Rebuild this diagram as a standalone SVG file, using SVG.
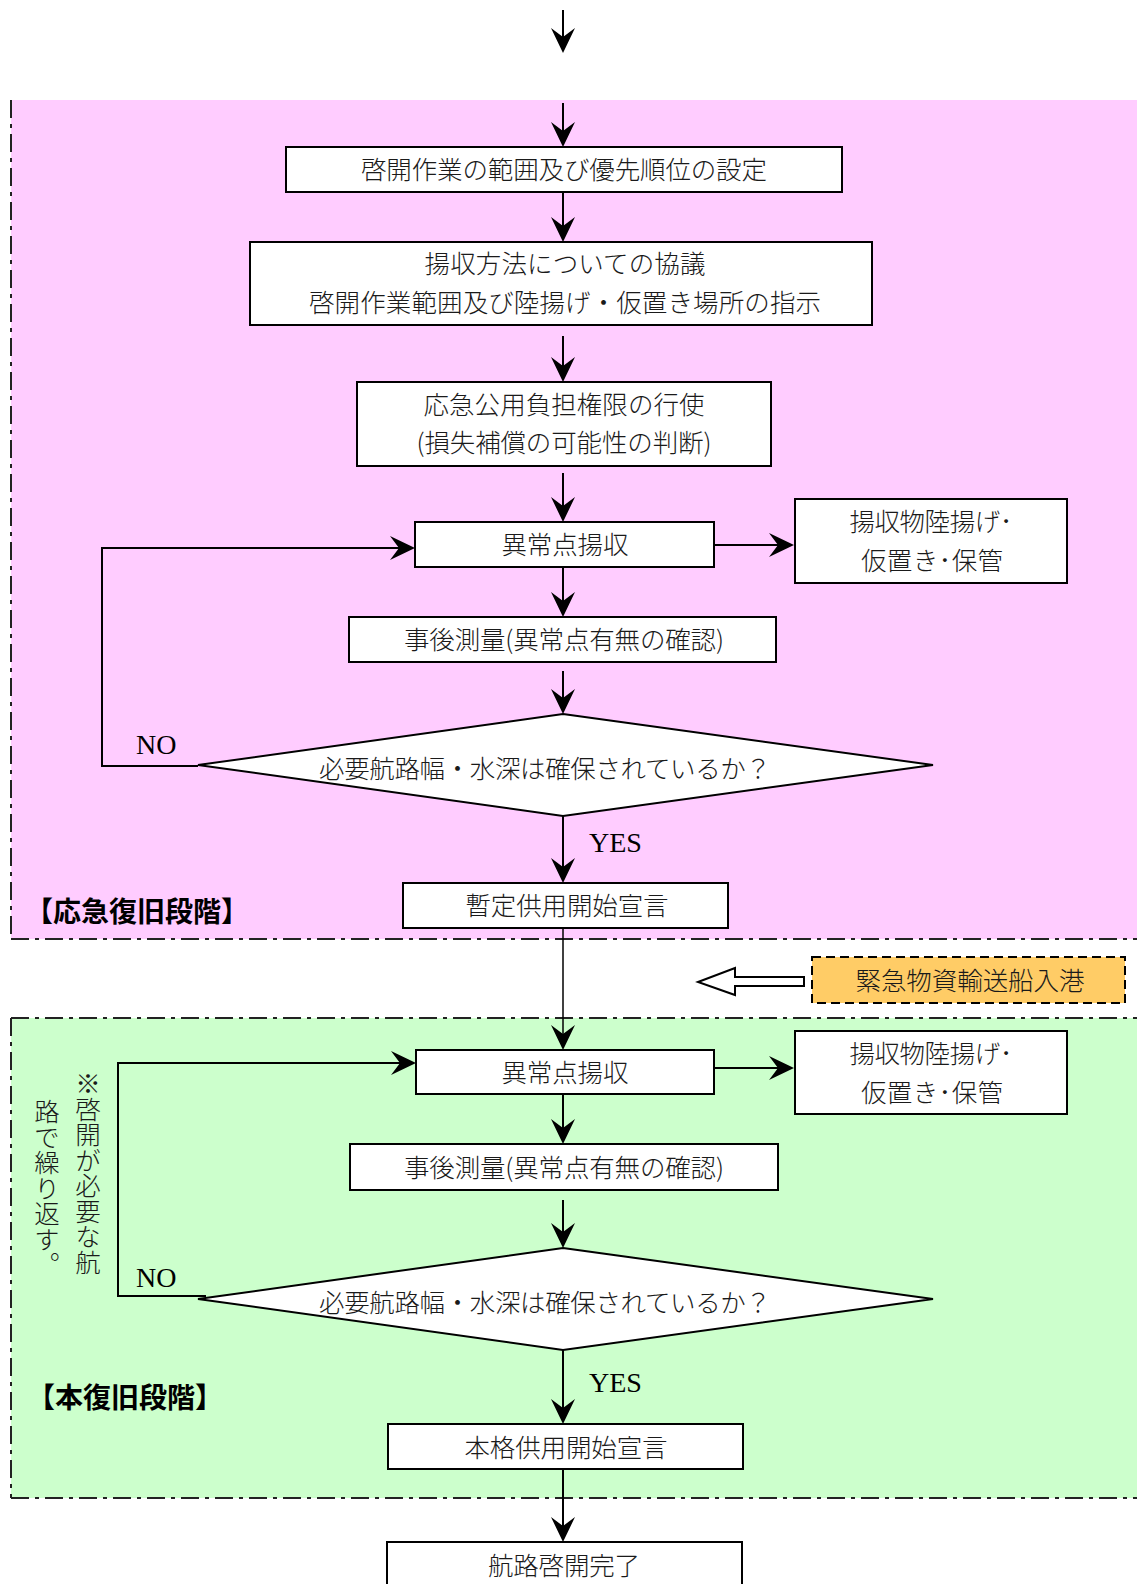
<svg xmlns="http://www.w3.org/2000/svg" width="1137" height="1584" viewBox="0 0 1137 1584">
  <style>
    .box { fill: #ffffff; stroke: #000000; stroke-width: 2; }
    .t { font-family: "Noto Sans CJK JP", sans-serif; font-size: 25.5px; font-weight: 300; fill: #1a1a1a; text-anchor: middle; dominant-baseline: central; }
    .lab { font-family: "Liberation Serif", serif; font-size: 28px; fill: #000000; }
    .phase { font-family: "Noto Sans CJK JP", sans-serif; font-size: 28px; font-weight: bold; fill: #000000; dominant-baseline: central; }
    .vt { font-family: "Noto Sans CJK JP", sans-serif; font-size: 25.5px; font-weight: 300; fill: #1a1a1a; writing-mode: vertical-rl; }
    .ln { fill: none; stroke: #000000; stroke-width: 2; }
    .thin { fill: none; stroke: #000000; stroke-width: 1.5; }
    .border { fill: none; stroke: #222222; stroke-width: 2; stroke-dasharray: 18 6 4 6; }
  </style>
  <defs>
    <marker id="arr" viewBox="-28 -14 30 28" refX="-4" refY="0" markerWidth="30" markerHeight="28" markerUnits="userSpaceOnUse" orient="auto">
      <path d="M0,0 L-25,-12 L-16,0 L-25,12 Z" fill="#000000"/>
    </marker>
  </defs>

  <!-- phase areas -->
  <g id="phase-emergency">
    <rect x="11" y="100" width="1126" height="839" fill="#ffccff"/>
    <line class="border" x1="11" y1="100" x2="11" y2="939"/>
    <line class="border" x1="11" y1="939" x2="1137" y2="939"/>
    <text class="phase" x="25" y="910">【応急復旧段階】</text>
  </g>
  <g id="phase-full">
    <rect x="11" y="1018" width="1126" height="480" fill="#ccffcc"/>
    <line class="border" x1="11" y1="1018" x2="1137" y2="1018"/>
    <line class="border" x1="11" y1="1018" x2="11" y2="1498"/>
    <line class="border" x1="11" y1="1498" x2="1137" y2="1498"/>
    <text class="phase" x="27" y="1396">【本復旧段階】</text>
  </g>

  <!-- connectors -->
  <g id="connectors">
    <line class="ln" x1="563" y1="10" x2="563" y2="49" marker-end="url(#arr)"/>
    <line class="ln" x1="563" y1="103" x2="563" y2="143" marker-end="url(#arr)"/>
    <line class="ln" x1="563" y1="192" x2="563" y2="238" marker-end="url(#arr)"/>
    <line class="ln" x1="563" y1="336" x2="563" y2="378" marker-end="url(#arr)"/>
    <line class="ln" x1="563" y1="473" x2="563" y2="518" marker-end="url(#arr)"/>
    <line class="ln" x1="714" y1="545" x2="790" y2="545" marker-end="url(#arr)"/>
    <line class="ln" x1="563" y1="567" x2="563" y2="613" marker-end="url(#arr)"/>
    <line class="ln" x1="563" y1="671" x2="563" y2="710" marker-end="url(#arr)"/>
    <polyline class="ln" points="198,766 102,766 102,548 411,548" marker-end="url(#arr)"/>
    <line class="ln" x1="563" y1="816" x2="563" y2="879" marker-end="url(#arr)"/>
    <line class="thin" x1="563" y1="928" x2="563" y2="1046" marker-end="url(#arr)"/>
    <line class="ln" x1="714" y1="1068" x2="790" y2="1068" marker-end="url(#arr)"/>
    <line class="ln" x1="563" y1="1094" x2="563" y2="1140" marker-end="url(#arr)"/>
    <line class="ln" x1="563" y1="1200" x2="563" y2="1244" marker-end="url(#arr)"/>
    <polyline class="ln" points="206,1296 118,1296 118,1063 412,1063" marker-end="url(#arr)"/>
    <line class="ln" x1="563" y1="1350" x2="563" y2="1420" marker-end="url(#arr)"/>
    <line class="ln" x1="563" y1="1469" x2="563" y2="1538" marker-end="url(#arr)"/>
    <text class="lab" x="136" y="754">NO</text>
    <text class="lab" x="589" y="852">YES</text>
    <text class="lab" x="136" y="1287">NO</text>
    <text class="lab" x="589" y="1392">YES</text>
  </g>

  <!-- emergency restoration steps -->
  <g id="n-scope">
    <rect class="box" x="286" y="147" width="556" height="45"/>
    <text class="t" x="564" y="167.5" textLength="406">啓開作業の範囲及び優先順位の設定</text>
  </g>
  <g id="n-consult">
    <rect class="box" x="250" y="242" width="622" height="83"/>
    <text class="t" x="565" y="261" textLength="281">揚収方法についての協議</text>
    <text class="t" x="565" y="300" textLength="512">啓開作業範囲及び陸揚げ・仮置き場所の指示</text>
  </g>
  <g id="n-authority">
    <rect class="box" x="357" y="382" width="414" height="84"/>
    <text class="t" x="564" y="402" textLength="281">応急公用負担権限の行使</text>
    <text class="t" x="564" y="440" textLength="295">(損失補償の可能性の判断)</text>
  </g>
  <g id="n-collect1">
    <rect class="box" x="415" y="522" width="299" height="45"/>
    <text class="t" x="565" y="542" textLength="127">異常点揚収</text>
  </g>
  <g id="n-store1">
    <rect class="box" x="795" y="499" width="272" height="84"/>
    <text class="t" x="931" y="519" textLength="163">揚収物陸揚げ･</text>
    <text class="t" x="932" y="558" textLength="142">仮置き･保管</text>
  </g>
  <g id="n-survey1">
    <rect class="box" x="349" y="617" width="427" height="45"/>
    <text class="t" x="564" y="637" textLength="320">事後測量(異常点有無の確認)</text>
  </g>
  <g id="n-check1">
    <polygon class="box" points="563,714 933,765 563,816 198,765"/>
    <text class="t" x="545" y="766" textLength="452">必要航路幅・水深は確保されているか？</text>
  </g>
  <g id="n-provisional">
    <rect class="box" x="403" y="883" width="325" height="45"/>
    <text class="t" x="567" y="903" textLength="203">暫定供用開始宣言</text>
  </g>

  <!-- emergency cargo ship entry -->
  <g id="n-ship">
    <rect x="812" y="957" width="313" height="46" fill="#ffcc66" stroke="#000000" stroke-width="2" stroke-dasharray="9 5"/>
    <text class="t" x="970" y="978" textLength="229">緊急物資輸送船入港</text>
    <polygon points="698,982 735,968 735,977 804,977 804,986 735,986 735,995" fill="#ffffff" stroke="#000000" stroke-width="2" stroke-linejoin="miter"/>
  </g>

  <!-- full restoration steps -->
  <g id="n-collect2">
    <rect class="box" x="416" y="1050" width="298" height="44"/>
    <text class="t" x="565" y="1070" textLength="127">異常点揚収</text>
  </g>
  <g id="n-store2">
    <rect class="box" x="795" y="1031" width="272" height="83"/>
    <text class="t" x="931" y="1051" textLength="163">揚収物陸揚げ･</text>
    <text class="t" x="932" y="1090" textLength="142">仮置き･保管</text>
  </g>
  <g id="n-survey2">
    <rect class="box" x="350" y="1144" width="428" height="46"/>
    <text class="t" x="564" y="1165" textLength="320">事後測量(異常点有無の確認)</text>
  </g>
  <g id="n-check2">
    <polygon class="box" points="563,1248 933,1299 563,1350 198,1299"/>
    <text class="t" x="545" y="1300" textLength="452">必要航路幅・水深は確保されているか？</text>
  </g>
  <g id="n-note">
    <text class="vt" x="88" y="1071">※啓開が必要な航</text>
    <text class="vt" x="47" y="1099">路で繰り返す。</text>
  </g>
  <g id="n-full">
    <rect class="box" x="388" y="1424" width="355" height="45"/>
    <text class="t" x="566" y="1445" textLength="203">本格供用開始宣言</text>
  </g>
  <g id="n-complete">
    <rect class="box" x="387" y="1542" width="355" height="50"/>
    <text class="t" x="564" y="1563" textLength="152">航路啓開完了</text>
  </g>
</svg>
